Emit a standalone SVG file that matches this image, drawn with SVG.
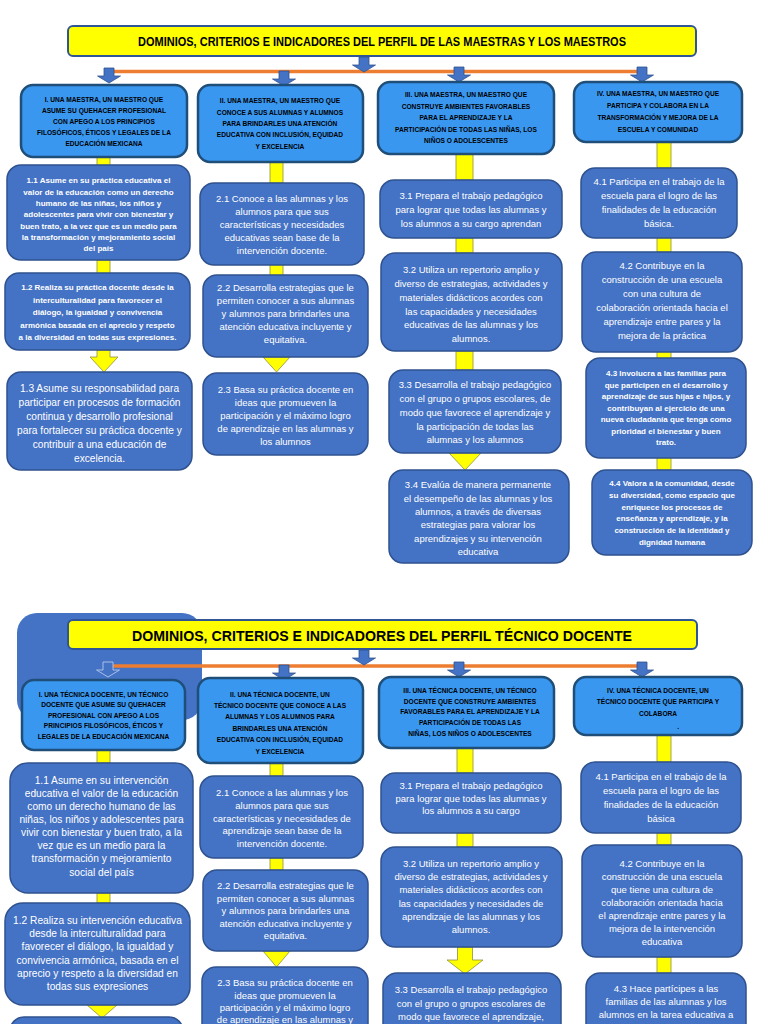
<svg xmlns="http://www.w3.org/2000/svg" width="768" height="1024" viewBox="0 0 768 1024">
<style>
text{font-family:'Liberation Sans',Arial,sans-serif}
.ttl{fill:#FFFF00;stroke:#2F5597;stroke-width:2}
.hb{fill:#3A97F0;stroke:#1F4E79;stroke-width:2.5}
.cb{fill:#4472C4;stroke:#2F528F;stroke-width:1.5}
.yc{fill:#FFFF00;stroke:#8F8F40;stroke-width:0.8}
.ba{fill:#4472C4;stroke:#2F528F;stroke-width:0.8}
.ol{stroke:#ED7D31;stroke-width:3.5}
.tt{fill:#000;font-weight:bold;text-anchor:middle}
.h{fill:#000;font-size:7.2px;font-weight:bold;text-anchor:middle}
.t{fill:#fff;font-size:9.5px;text-anchor:middle}
.tl{fill:#fff;font-size:10.2px;text-anchor:middle}
.tc{fill:#fff;font-size:8px;font-weight:bold;text-anchor:middle}
</style>
<rect x="0" y="0" width="768" height="1024" fill="#fff"/>

<!-- background shape bottom -->
<rect x="17" y="613" width="185" height="107" rx="20" fill="#4472C4"/>

<g id="connectors">
  <line class="ol" x1="113" y1="71.5" x2="641" y2="71.5"/>
  <path class="ba" d="M104 68h10v8h6.5L109 83 97.5 76h6.5z"/>
  <path class="ba" d="M279 71h10v8h6.5L284 86 272.5 79h6.5z"/>
  <path class="ba" d="M359 57h10v8h6.5L364 72 352.5 65h6.5z"/>
  <path class="ba" d="M454 67h10v8h6.5L459 82 447.5 75h6.5z"/>
  <path class="ba" d="M637 67h10v8h6.5L642 82 630.5 75h6.5z"/>
  <rect class="yc" x="97" y="157" width="13" height="9"/>
  <rect class="yc" x="97" y="260" width="13" height="14"/>
  <path class="yc" d="M97 350H110V357H118L104 372 90 357H97Z"/>
  <rect class="yc" x="270" y="161" width="13" height="22"/>
  <rect class="yc" x="270" y="264" width="13" height="12"/>
  <path class="yc" d="M263 357H290L276.5 372Z"/>
  <rect class="yc" x="456" y="153" width="17" height="27"/>
  <rect class="yc" x="456" y="238" width="17" height="15"/>
  <rect class="yc" x="456" y="351" width="17" height="19"/>
  <path class="yc" d="M449 453H481L465 470Z"/>
  <rect class="yc" x="657" y="141" width="14" height="27"/>
  <rect class="yc" x="657" y="237" width="14" height="15"/>
  <rect class="yc" x="657" y="351" width="14" height="8"/>
  <rect class="yc" x="657" y="457" width="14" height="13"/>

  <line class="ol" x1="113" y1="666" x2="638" y2="666"/>
  <path d="M103 662h10v8h6.5L108 677 96.5 670h6.5z" fill="#4472C4" stroke="#A9C0E8" stroke-width="1"/>
  <path class="ba" d="M279 665h10v8h6.5L284 680 272.5 673h6.5z"/>
  <path class="ba" d="M359 650h10v8h6.5L364 665 352.5 658h6.5z"/>
  <path class="ba" d="M454 662h10v8h6.5L459 677 447.5 670h6.5z"/>
  <path class="ba" d="M637 662h10v8h6.5L642 677 630.5 670h6.5z"/>
  <rect class="yc" x="97" y="750" width="13" height="13"/>
  <rect class="yc" x="97" y="893" width="13" height="10"/>
  <path class="yc" d="M87 1005H117L102 1018Z"/>
  <rect class="yc" x="270" y="763" width="13" height="13"/>
  <rect class="yc" x="270" y="858" width="13" height="12"/>
  <path class="yc" d="M263 951H290L276.5 967Z"/>
  <rect class="yc" x="457" y="748" width="16" height="25"/>
  <rect class="yc" x="457" y="833" width="16" height="14"/>
  <path class="yc" d="M457.5 947H472.5V960H483L465 974 447 960H457.5Z"/>
  <rect class="yc" x="657" y="735" width="14" height="27"/>
  <rect class="yc" x="657" y="833" width="14" height="12"/>
  <rect class="yc" x="657" y="957" width="14" height="16"/>
</g>

<!-- TOP SECTION -->
<g id="title1">
  <rect class="ttl" x="68" y="26" width="628" height="30" rx="5"/>
  <text class="tt" x="382" y="45.5" font-size="12" textLength="488" lengthAdjust="spacingAndGlyphs">DOMINIOS, CRITERIOS E INDICADORES DEL PERFIL DE LAS MAESTRAS Y LOS MAESTROS</text>
</g>
<g id="m-h1">
  <rect class="hb" x="21" y="85" width="166" height="72" rx="12"/>
  <text class="h" transform="matrix(0.92 0 0 1 8.32 0)"><tspan x="104" y="102">I. UNA MAESTRA, UN MAESTRO QUE</tspan><tspan x="104" y="113">ASUME SU QUEHACER PROFESIONAL</tspan><tspan x="104" y="124">CON APEGO A LOS PRINCIPIOS</tspan><tspan x="104" y="135">FILOSÓFICOS, ÉTICOS Y LEGALES DE LA</tspan><tspan x="104" y="146">EDUCACIÓN MEXICANA</tspan></text>
</g>
<g id="m-h2">
  <rect class="hb" x="198" y="85" width="165" height="77" rx="12"/>
  <text class="h" transform="matrix(0.92 0 0 1 22.4 0)"><tspan x="280" y="103.5">II. UNA MAESTRA, UN MAESTRO QUE</tspan><tspan x="280" y="114.8">CONOCE A SUS ALUMNAS Y ALUMNOS</tspan><tspan x="280" y="126.1">PARA BRINDARLES UNA ATENCIÓN</tspan><tspan x="280" y="137.4">EDUCATIVA CON INCLUSIÓN, EQUIDAD</tspan><tspan x="280" y="148.7">Y EXCELENCIA</tspan></text>
</g>
<g id="m-h3">
  <rect class="hb" x="378" y="82" width="176" height="72" rx="12"/>
  <text class="h" transform="matrix(0.92 0 0 1 37.28 0)"><tspan x="466" y="97.5">III. UNA MAESTRA, UN MAESTRO QUE</tspan><tspan x="466" y="108.9">CONSTRUYE AMBIENTES FAVORABLES</tspan><tspan x="466" y="120.3">PARA EL APRENDIZAJE Y LA</tspan><tspan x="466" y="131.7">PARTICIPACIÓN DE TODAS LAS NIÑAS, LOS</tspan><tspan x="466" y="143.1">NIÑOS O ADOLESCENTES</tspan></text>
</g>
<g id="m-h4">
  <rect class="hb" x="574" y="82" width="168" height="60" rx="12"/>
  <text class="h" transform="matrix(0.92 0 0 1 52.64 0)"><tspan x="658" y="96.5">IV. UNA MAESTRA, UN MAESTRO QUE</tspan><tspan x="658" y="108.2">PARTICIPA Y COLABORA EN LA</tspan><tspan x="658" y="119.9">TRANSFORMACIÓN Y MEJORA DE LA</tspan><tspan x="658" y="131.6">ESCUELA Y COMUNIDAD</tspan></text>
</g>

<g id="m-1-1">
  <rect class="cb" x="7" y="165" width="183" height="95" rx="14"/>
  <text class="tc"><tspan x="98.5" y="183.3">1.1 Asume en su práctica educativa el</tspan><tspan x="98.5" y="194.6">valor de la educación como un derecho</tspan><tspan x="98.5" y="205.9">humano de las niñas, los niños y</tspan><tspan x="98.5" y="217.2">adolescentes para vivir con bienestar y</tspan><tspan x="98.5" y="228.5">buen trato, a la vez que es un medio para</tspan><tspan x="98.5" y="239.8">la transformación y mejoramiento social</tspan><tspan x="98.5" y="251.1">del país</tspan></text>
</g>
<g id="m-1-2">
  <rect class="cb" x="5" y="273" width="185" height="77" rx="14"/>
  <text class="tc" font-size="8.3"><tspan x="97.5" y="290">1.2 Realiza su práctica docente desde la</tspan><tspan x="97.5" y="302.5">interculturalidad para favorecer el</tspan><tspan x="97.5" y="315">diálogo, la igualdad y convivencia</tspan><tspan x="97.5" y="327.5">armónica basada en el aprecio y respeto</tspan><tspan x="97.5" y="340">a la diversidad en todas sus expresiones.</tspan></text>
</g>
<g id="m-1-3">
  <rect class="cb" x="7" y="372" width="185" height="98" rx="14"/>
  <text class="tl"><tspan x="99.5" y="391.5">1.3 Asume su responsabilidad para</tspan><tspan x="99.5" y="405.5">participar en procesos de formación</tspan><tspan x="99.5" y="419.5">continua y desarrollo profesional</tspan><tspan x="99.5" y="433.5">para fortalecer su práctica docente y</tspan><tspan x="99.5" y="447.5">contribuir a una educación de</tspan><tspan x="99.5" y="461.5">excelencia.</tspan></text>
</g>
<g id="m-2-1">
  <rect class="cb" x="200" y="183" width="164" height="82" rx="14"/>
  <text class="t"><tspan x="282" y="201.8">2.1 Conoce a las alumnas y los</tspan><tspan x="282" y="214.8">alumnos para que sus</tspan><tspan x="282" y="227.8">características y necesidades</tspan><tspan x="282" y="240.8">educativas sean base de la</tspan><tspan x="282" y="253.8">intervención docente.</tspan></text>
</g>
<g id="m-2-2">
  <rect class="cb" x="203" y="275" width="165" height="82" rx="14"/>
  <text class="t"><tspan x="285.5" y="291.3">2.2 Desarrolla estrategias que le</tspan><tspan x="285.5" y="304.1">permiten conocer a sus alumnas</tspan><tspan x="285.5" y="316.9">y alumnos para brindarles una</tspan><tspan x="285.5" y="329.7">atención educativa incluyente y</tspan><tspan x="285.5" y="342.5">equitativa.</tspan></text>
</g>
<g id="m-2-3">
  <rect class="cb" x="203" y="373" width="165" height="82" rx="14"/>
  <text class="t"><tspan x="285.5" y="393.3">2.3 Basa su práctica docente en</tspan><tspan x="285.5" y="406.2">ideas que promueven la</tspan><tspan x="285.5" y="419.1">participación y el máximo logro</tspan><tspan x="285.5" y="432">de aprendizaje en las alumnas y</tspan><tspan x="285.5" y="444.9">los alumnos</tspan></text>
</g>
<g id="m-3-1">
  <rect class="cb" x="380" y="180" width="182" height="58" rx="14"/>
  <text class="t"><tspan x="471" y="199.3">3.1 Prepara el trabajo pedagógico</tspan><tspan x="471" y="212.9">para lograr que todas las alumnas y</tspan><tspan x="471" y="226.5">los alumnos a su cargo aprendan</tspan></text>
</g>
<g id="m-3-2">
  <rect class="cb" x="381" y="253" width="181" height="98" rx="14"/>
  <text class="t"><tspan x="471" y="272.8">3.2 Utiliza un repertorio amplio y</tspan><tspan x="471" y="286.7">diverso de estrategias, actividades y</tspan><tspan x="471" y="300.6">materiales didácticos acordes con</tspan><tspan x="471" y="314.5">las capacidades y necesidades</tspan><tspan x="471" y="328.4">educativas de las alumnas y los</tspan><tspan x="471" y="342.3">alumnos.</tspan></text>
</g>
<g id="m-3-3">
  <rect class="cb" x="389" y="370" width="172" height="83" rx="14"/>
  <text class="t"><tspan x="475" y="388.3">3.3 Desarrolla el trabajo pedagógico</tspan><tspan x="475" y="402">con el grupo o grupos escolares, de</tspan><tspan x="475" y="415.8">modo que favorece el aprendizaje y</tspan><tspan x="475" y="429.5">la participación de todas las</tspan><tspan x="475" y="443.3">alumnas y los alumnos</tspan></text>
</g>
<g id="m-3-4">
  <rect class="cb" x="389" y="470" width="180" height="93" rx="14"/>
  <text class="t"><tspan x="478" y="488.3">3.4 Evalúa de manera permanente</tspan><tspan x="478" y="501.6">el desempeño de las alumnas y los</tspan><tspan x="478" y="515">alumnos, a través de diversas</tspan><tspan x="478" y="528.3">estrategias para valorar los</tspan><tspan x="478" y="541.6">aprendizajes y su intervención</tspan><tspan x="478" y="554.9">educativa</tspan></text>
</g>
<g id="m-4-1">
  <rect class="cb" x="581" y="168" width="156" height="70" rx="14"/>
  <text class="t"><tspan x="659" y="185.3">4.1 Participa en el trabajo de la</tspan><tspan x="659" y="199.3">escuela para el logro de las</tspan><tspan x="659" y="213.3">finalidades de la educación</tspan><tspan x="659" y="227.3">básica.</tspan></text>
</g>
<g id="m-4-2">
  <rect class="cb" x="582" y="252" width="160" height="100" rx="14"/>
  <text class="t"><tspan x="662" y="269.3">4.2 Contribuye en la</tspan><tspan x="662" y="283.3">construcción de una escuela</tspan><tspan x="662" y="297.3">con una cultura de</tspan><tspan x="662" y="311.3">colaboración orientada hacia el</tspan><tspan x="662" y="325.3">aprendizaje entre pares y la</tspan><tspan x="662" y="339.3">mejora de la práctica</tspan></text>
</g>
<g id="m-4-3">
  <rect class="cb" x="586" y="358" width="160" height="100" rx="14"/>
  <text class="tc" font-size="7.6"><tspan x="666" y="376.1">4.3 Involucra a las familias para</tspan><tspan x="666" y="387.6">que participen en el desarrollo y</tspan><tspan x="666" y="399.1">aprendizaje de sus hijas e hijos, y</tspan><tspan x="666" y="410.6">contribuyan al ejercicio de una</tspan><tspan x="666" y="422.1">nueva ciudadanía que tenga como</tspan><tspan x="666" y="433.6">prioridad el bienestar y buen</tspan><tspan x="666" y="445.1">trato.</tspan></text>
</g>
<g id="m-4-4">
  <rect class="cb" x="592" y="470" width="160" height="85" rx="14"/>
  <text class="tc" font-size="7.9"><tspan x="672" y="486.2">4.4 Valora a la comunidad, desde</tspan><tspan x="672" y="497.9">su diversidad, como espacio que</tspan><tspan x="672" y="509.5">enriquece los procesos de</tspan><tspan x="672" y="521.2">enseñanza y aprendizaje, y la</tspan><tspan x="672" y="532.8">construcción de la identidad y</tspan><tspan x="672" y="544.5">dignidad humana</tspan></text>
</g>

<!-- BOTTOM SECTION -->
<g id="title2">
  <rect class="ttl" x="68" y="620" width="629" height="29" rx="5"/>
  <text class="tt" x="382" y="640.5" font-size="15.5" textLength="500" lengthAdjust="spacingAndGlyphs">DOMINIOS, CRITERIOS E INDICADORES DEL PERFIL TÉCNICO DOCENTE</text>
</g>
<g id="t-h1">
  <rect class="hb" x="22" y="680" width="163" height="70" rx="12"/>
  <text class="h" font-size="7.1" transform="matrix(0.92 0 0 1 8.28 0)"><tspan x="103.5" y="696.8">I. UNA TÉCNICA DOCENTE, UN TÉCNICO</tspan><tspan x="103.5" y="707.3">DOCENTE QUE ASUME SU QUEHACER</tspan><tspan x="103.5" y="717.8">PROFESIONAL CON APEGO A LOS</tspan><tspan x="103.5" y="728.3">PRINCIPIOS FILOSÓFICOS, ÉTICOS Y</tspan><tspan x="103.5" y="738.8">LEGALES DE LA EDUCACIÓN MEXICANA</tspan></text>
</g>
<g id="t-h2">
  <rect class="hb" x="198" y="678" width="165" height="85" rx="12"/>
  <text class="h" transform="matrix(0.92 0 0 1 22.4 0)"><tspan x="280" y="696.8">II. UNA TÉCNICA DOCENTE, UN</tspan><tspan x="280" y="708.2">TÉCNICO DOCENTE QUE CONOCE A LAS</tspan><tspan x="280" y="719.5">ALUMNAS Y LOS ALUMNOS PARA</tspan><tspan x="280" y="730.9">BRINDARLES UNA ATENCIÓN</tspan><tspan x="280" y="742.2">EDUCATIVA  CON INCLUSIÓN, EQUIDAD</tspan><tspan x="280" y="753.6">Y EXCELENCIA</tspan></text>
</g>
<g id="t-h3">
  <rect class="hb" x="379" y="677" width="175" height="71" rx="12"/>
  <text class="h" font-size="6.9" transform="matrix(0.92 0 0 1 37.6 0)"><tspan x="470" y="692.8">III. UNA TÉCNICA DOCENTE, UN TÉCNICO</tspan><tspan x="470" y="703.6">DOCENTE QUE CONSTRUYE AMBIENTES</tspan><tspan x="470" y="714.3">FAVORABLES PARA EL APRENDIZAJE Y LA</tspan><tspan x="470" y="725.1">PARTICIPACIÓN DE TODAS LAS</tspan><tspan x="470" y="735.8">NIÑAS, LOS NIÑOS O ADOLESCENTES</tspan></text>
</g>
<g id="t-h4">
  <rect class="hb" x="574" y="677" width="168" height="58" rx="12"/>
  <text class="h" font-size="7.5" transform="matrix(0.92 0 0 1 52.64 0)"><tspan x="658" y="692.6">IV. UNA TÉCNICA DOCENTE, UN</tspan><tspan x="658" y="704.3">TÉCNICO DOCENTE QUE PARTICIPA Y</tspan><tspan x="658" y="716">COLABORA</tspan><tspan x="680" y="729">.</tspan></text>
</g>

<g id="t-1-1">
  <rect class="cb" x="10" y="763" width="183" height="130" rx="18"/>
  <text class="tl"><tspan x="101.5" y="783.5">1.1 Asume en su intervención</tspan><tspan x="101.5" y="796.7">educativa el valor de la educación</tspan><tspan x="101.5" y="809.8">como un derecho humano de las</tspan><tspan x="101.5" y="823">niñas, los niños y adolescentes para</tspan><tspan x="101.5" y="836.1">vivir con bienestar y buen trato, a la</tspan><tspan x="101.5" y="849.3">vez que es un medio para la</tspan><tspan x="101.5" y="862.4">transformación y mejoramiento</tspan><tspan x="101.5" y="875.6">social del país</tspan></text>
</g>
<g id="t-1-2">
  <rect class="cb" x="5" y="903" width="185" height="102" rx="18"/>
  <text class="tl"><tspan x="97.5" y="923.5">1.2 Realiza su intervención educativa</tspan><tspan x="97.5" y="936.9">desde la interculturalidad para</tspan><tspan x="97.5" y="950.2">favorecer el diálogo, la igualdad y</tspan><tspan x="97.5" y="963.6">convivencia armónica, basada en el</tspan><tspan x="97.5" y="976.9">aprecio y respeto a la diversidad en</tspan><tspan x="97.5" y="990.3">todas  sus expresiones</tspan></text>
</g>
<g id="t-1-3">
  <rect class="cb" x="10" y="1017" width="173" height="40" rx="14"/>
</g>
<g id="t-2-1">
  <rect class="cb" x="200" y="776" width="163" height="82" rx="14"/>
  <text class="t"><tspan x="282" y="796">2.1 Conoce a las alumnas y los</tspan><tspan x="282" y="808.8">alumnos para que sus</tspan><tspan x="282" y="821.6">características y necesidades de</tspan><tspan x="282" y="834.4">aprendizaje sean base de la</tspan><tspan x="282" y="847.2">intervención docente.</tspan></text>
</g>
<g id="t-2-2">
  <rect class="cb" x="203" y="870" width="165" height="81" rx="14"/>
  <text class="t"><tspan x="285.5" y="889.3">2.2 Desarrolla estrategias que le</tspan><tspan x="285.5" y="901.8">permiten conocer a sus alumnas</tspan><tspan x="285.5" y="914.3">y alumnos para brindarles una</tspan><tspan x="285.5" y="926.8">atención educativa incluyente y</tspan><tspan x="285.5" y="939.3">equitativa.</tspan></text>
</g>
<g id="t-2-3">
  <rect class="cb" x="202" y="967" width="166" height="80" rx="14"/>
  <text class="t"><tspan x="285" y="986">2.3 Basa su práctica docente en</tspan><tspan x="285" y="998.5">ideas que promueven la</tspan><tspan x="285" y="1011">participación y el máximo logro</tspan><tspan x="285" y="1023.2">de aprendizaje en las alumnas y</tspan></text>
</g>
<g id="t-3-1">
  <rect class="cb" x="381" y="773" width="180" height="60" rx="14"/>
  <text class="t"><tspan x="471" y="789.3">3.1 Prepara el trabajo pedagógico</tspan><tspan x="471" y="801.7">para lograr que todas las alumnas y</tspan><tspan x="471" y="814.1">los alumnos a su cargo</tspan></text>
</g>
<g id="t-3-2">
  <rect class="cb" x="381" y="847" width="181" height="100" rx="14"/>
  <text class="t"><tspan x="471" y="866.6">3.2 Utiliza un repertorio amplio y</tspan><tspan x="471" y="880">diverso de estrategias, actividades y</tspan><tspan x="471" y="893.3">materiales didácticos  acordes con</tspan><tspan x="471" y="906.7">las capacidades y necesidades de</tspan><tspan x="471" y="920">aprendizaje de las alumnas y los</tspan><tspan x="471" y="933.4">alumnos.</tspan></text>
</g>
<g id="t-3-3">
  <rect class="cb" x="383" y="973" width="178" height="80" rx="14"/>
  <text class="t"><tspan x="471" y="993.3">3.3 Desarrolla el trabajo pedagógico</tspan><tspan x="471" y="1006.7">con el grupo o grupos escolares de</tspan><tspan x="471" y="1020">modo que favorece el  aprendizaje,</tspan></text>
</g>
<g id="t-4-1">
  <rect class="cb" x="581" y="762" width="160" height="71" rx="14"/>
  <text class="t"><tspan x="661" y="780">4.1 Participa en el trabajo de la</tspan><tspan x="661" y="793.9">escuela para el logro de las</tspan><tspan x="661" y="807.8">finalidades de la educación</tspan><tspan x="661" y="821.7">básica</tspan></text>
</g>
<g id="t-4-2">
  <rect class="cb" x="582" y="845" width="160" height="112" rx="14"/>
  <text class="t"><tspan x="662" y="866.6">4.2 Contribuye en la</tspan><tspan x="662" y="879.7">construcción de una escuela</tspan><tspan x="662" y="892.7">que tiene una cultura de</tspan><tspan x="662" y="905.8">colaboración orientada hacia</tspan><tspan x="662" y="918.9">el aprendizaje entre pares y la</tspan><tspan x="662" y="932">mejora de la intervención</tspan><tspan x="662" y="945">educativa</tspan></text>
</g>
<g id="t-4-3">
  <rect class="cb" x="586" y="973" width="160" height="80" rx="14"/>
  <text class="t"><tspan x="666" y="991.6">4.3 Hace partícipes a las</tspan><tspan x="666" y="1005">familias de las alumnas y los</tspan><tspan x="666" y="1018.3">alumnos en la tarea educativa a</tspan></text>
</g>
</svg>
